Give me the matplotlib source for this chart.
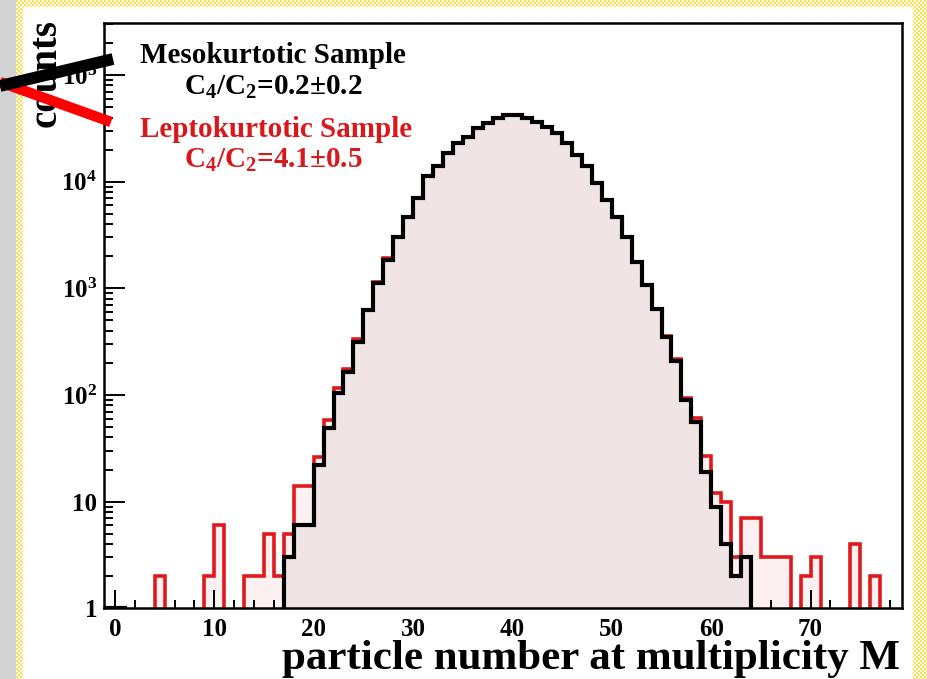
import numpy as np
import matplotlib
matplotlib.use("Agg")
import matplotlib.pyplot as plt
from matplotlib.lines import Line2D

# histogram contents, one entry per unit bin starting at first_bin
first_bin = -1
meso_counts = [1, 1,
               0, 0, 0, 0, 0, 0, 0, 0, 0, 0, 0, 0, 0, 0, 0, 0,
               3, 6, 6,
               22, 49, 104, 166, 317, 629, 1133, 1850, 3060, 4720,
               7020, 11200, 13900, 18500, 23000, 26500, 31800, 35500, 39500, 42400,
               42400, 39500, 36700, 32900, 28600, 23000, 17900, 13900, 9700, 6770,
               4720, 3060, 1780, 1080, 638, 349, 210, 90, 56, 19,
               9, 4, 2, 3,
               0, 0, 0, 0, 0, 0, 0, 0, 0, 0, 0, 0, 0]
lepto_counts = [0, 0,
                0, 0, 0, 2, 0, 0, 0, 0, 2, 6, 0, 0, 2, 2, 5, 2,
                5, 14, 14,
                26, 58, 116, 175, 334, 629, 1150, 1920, 3060, 4720,
                7020, 11200, 13900, 18500, 23000, 26500, 31800, 35500, 39500, 42400,
                42400, 39500, 36700, 32900, 28600, 23000, 17900, 13900, 9700, 6770,
                4720, 3060, 1780, 1080, 638, 358, 217, 93, 61, 27,
                12, 10, 3, 7,
                7, 3, 3, 3, 0, 2, 3, 0, 0, 0, 4, 0, 2]

ytick_vals = [1, 10, 100, 1e3, 1e4, 1e5]
ytick_text = ["1", "10", "$10^{2}$", "$10^{3}$", "$10^{4}$", "$10^{5}$"]
xtick_vals = [0, 10, 20, 30, 40, 50, 60, 70]

meso_label = ["Mesokurtotic Sample", "C$_{4}$/C$_{2}$=0.2\u00b10.2"]
lepto_label = ["Leptokurtotic Sample", "C$_{4}$/C$_{2}$=4.1\u00b10.5"]

plt.rcParams["font.family"] = "Liberation Serif"
plt.rcParams["font.weight"] = "bold"
plt.rcParams["mathtext.fontset"] = "custom"
plt.rcParams["mathtext.rm"] = "Liberation Serif:bold"
plt.rcParams["mathtext.it"] = "Liberation Serif:bold"
plt.rcParams["mathtext.bf"] = "Liberation Serif:bold"

W, H = 928, 679
fig = plt.figure(figsize=(W / 100, H / 100), dpi=100, facecolor="white")

# page background: grey strip + yellow checkered border
yy, xx = np.mgrid[0:H, 0:W]
bg = np.ones((H, W, 3))
checker = ((yy // 2 + xx // 2) % 2 == 0)
border = ((xx >= 16) & (xx < 23)) | ((yy < 7) & (xx >= 16)) | (xx >= 913)
bg[border & checker] = [1.0, 0.87, 0.30]
bg[xx < 16] = [0.83, 0.83, 0.83]
fig.figimage(bg, xo=0, yo=0, origin="upper", zorder=-10)

def px(x, y):
    return x / W, 1 - y / H

ax = fig.add_axes([104 / W, 1 - 608.3 / H, 798 / W, 585.6 / H])
ax.set_facecolor("white")

edges = np.arange(first_bin, first_bin + len(meso_counts) + 1)
floor = 0.05
meso = np.array(meso_counts, float)
lepto = np.array(lepto_counts, float)
meso_p = np.where(meso > 0, meso, floor)
lepto_p = np.where(lepto > 0, lepto, floor)

ax.stairs(lepto_p, edges, baseline=floor, fill=True, color="#fcf0f0", zorder=1)
ax.stairs(meso_p, edges, baseline=floor, fill=True, color="#f0e4e5", zorder=2)
ax.stairs(lepto_p, edges, baseline=floor, color="#e0191c", lw=2.6, zorder=3)
ax.stairs(meso_p, edges, baseline=floor, color="black", lw=3.0, zorder=4)

ax.set_yscale("log")
ax.set_xlim(-1.1, 79.2)
ax.set_ylim(1, 3.1e5)

ax.set_yticks(ytick_vals)
ax.set_yticklabels(ytick_text)
ax.set_xticks(xtick_vals)
ax.set_xticks(np.arange(0, 79, 2), minor=True)
ax.tick_params(which="both", direction="in", top=False, right=False, width=1.4)
ax.tick_params(axis="y", which="major", length=15, pad=5, labelsize=18)
ax.tick_params(axis="y", which="minor", length=6.5)
ax.tick_params(axis="x", which="major", length=13, pad=7, labelsize=18)
ax.tick_params(axis="x", which="minor", length=6)
for s in ax.spines.values():
    s.set_linewidth(1.8)
    s.set_zorder(6)

# axis titles
fig.text(*px(900, 669), "particle number at multiplicity M", fontsize=31,
         fontweight="bold", ha="right", va="baseline")
fig.text(*px(46, 73), "counts", fontsize=28, fontweight="bold",
         rotation=90, ha="center", va="center")

# legend
fig.text(*px(273, 63), meso_label[0], fontsize=21, ha="center", va="baseline", color="black")
fig.text(*px(273, 95), meso_label[1], fontsize=21, ha="center", va="baseline", color="black")
fig.text(*px(276, 137), lepto_label[0], fontsize=21, ha="center", va="baseline", color="#d7191c")
fig.text(*px(273, 168), lepto_label[1], fontsize=21, ha="center", va="baseline", color="#d7191c")

x0, y0 = px(0, 86)
x1, y1 = px(113, 59)
fig.add_artist(Line2D([x0, x1], [y0, y1], transform=fig.transFigure, color="black",
                      lw=8.5, solid_capstyle="butt", zorder=10))
x0, y0 = px(0, 82)
x1, y1 = px(111, 122)
fig.add_artist(Line2D([x0, x1], [y0, y1], transform=fig.transFigure, color="#ff0000",
                      lw=7.5, solid_capstyle="butt", zorder=9))

fig.savefig("out.png", dpi=100)
